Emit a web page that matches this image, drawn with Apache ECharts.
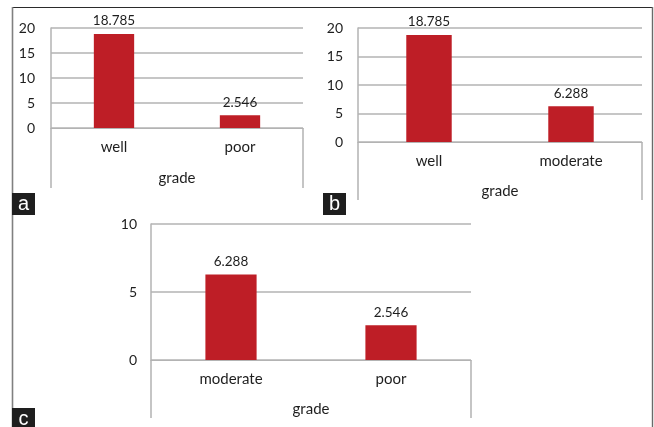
<!DOCTYPE html>
<html>
<head>
<meta charset="utf-8">
<style>
  html, body { margin: 0; padding: 0; background: #fff; }
  #chart { width: 654px; height: 427px; }
</style>
<script src="https://cdn.jsdelivr.net/npm/echarts@6/dist/echarts.min.js"></script>
</head>
<body>
<div id="chart"></div>
<script>
// Panel a: well vs poor
const catsA = ['well', 'poor'];
const valsA = [18.785, 2.546];
// Panel b: well vs moderate
const catsB = ['well', 'moderate'];
const valsB = [18.785, 6.288];
// Panel c: moderate vs poor
const catsC = ['moderate', 'poor'];
const valsC = [6.288, 2.546];

// Value axis ranges
const yMaxAB = 20;
const yMaxC = 10;
const yStep = 5;

const axisTitle = 'grade';
const panelTags = ['a', 'b', 'c'];

const FONT = 'Lato, "Open Sans", sans-serif';
const GRID_GRAY = '#b3b3b3';
const TEXT = '#1e1e1e';
const BAR_RED = '#BE1E26';

const chart = echarts.init(document.getElementById('chart'), null, { renderer: 'canvas' });

function xAxisFor(gridIndex, cats, tickLen, nameGap) {
  return {
    type: 'category',
    gridIndex: gridIndex,
    data: cats,
    boundaryGap: true,
    name: axisTitle,
    nameLocation: 'middle',
    nameGap: nameGap,
    nameTextStyle: { fontFamily: FONT, fontSize: 15, color: TEXT },
    axisLine: { show: true, lineStyle: { color: GRID_GRAY, width: 1 } },
    // only the two outer boundary ticks, extended down past the labels
    axisTick: {
      show: true,
      interval: function (idx) { return idx === 0; },
      length: tickLen,
      lineStyle: { color: GRID_GRAY, width: 1.5 }
    },
    axisLabel: { margin: 12, fontFamily: FONT, fontSize: 15, color: TEXT },
    splitLine: { show: false }
  };
}

function yAxisFor(gridIndex, max, margin) {
  return {
    type: 'value',
    gridIndex: gridIndex,
    min: 0,
    max: max,
    interval: yStep,
    axisLine: { show: true, lineStyle: { color: GRID_GRAY, width: 1.5 } },
    axisTick: { show: false },
    axisLabel: { margin: margin, fontFamily: FONT, fontSize: 14, color: TEXT },
    splitLine: { show: true, lineStyle: { color: GRID_GRAY, width: 1.5 } }
  };
}

function barSeries(idx, vals) {
  return {
    type: 'bar',
    xAxisIndex: idx,
    yAxisIndex: idx,
    data: vals,
    barWidth: '32%',
    itemStyle: { color: BAR_RED },
    label: {
      show: true,
      position: 'top',
      distance: 6,
      fontFamily: FONT,
      fontSize: 13.5,
      color: TEXT,
      formatter: function (p) { return p.value.toFixed(3); }
    },
    silent: true
  };
}

function tag(letter, x, y) {
  return {
    type: 'group',
    left: x,
    top: y,
    children: [
      { type: 'rect', shape: { x: 0, y: 0, width: 23, height: 22 }, style: { fill: '#1e1e1e' } },
      {
        type: 'text', x: 11.5, y: 11,
        style: {
          text: letter, fill: '#fff', font: '20px "Liberation Sans", Arial, sans-serif',
          textAlign: 'center', textVerticalAlign: 'middle'
        }
      }
    ]
  };
}

chart.setOption({
  animation: false,
  grid: [
    { left: 51, top: 28, width: 252, height: 100 },
    { left: 358, top: 28, width: 284, height: 114 },
    { left: 151, top: 224, width: 320, height: 136 }
  ],
  xAxis: [
    xAxisFor(0, catsA, 60, 43),
    xAxisFor(1, catsB, 58, 42),
    xAxisFor(2, catsC, 58, 42)
  ],
  yAxis: [
    yAxisFor(0, yMaxAB, 16),
    yAxisFor(1, yMaxAB, 15),
    yAxisFor(2, yMaxC, 14)
  ],
  series: [
    barSeries(0, valsA),
    barSeries(1, valsB),
    barSeries(2, valsC)
  ],
  graphic: [
    // outer figure frame (open at the bottom)
    { type: 'line', shape: { x1: 12, y1: 7.5, x2: 653, y2: 7.5 }, style: { stroke: '#2b2b2b', lineWidth: 1.2 } },
    { type: 'line', shape: { x1: 12.5, y1: 7, x2: 12.5, y2: 427 }, style: { stroke: '#808080', lineWidth: 1.6 } },
    { type: 'line', shape: { x1: 652.5, y1: 7, x2: 652.5, y2: 427 }, style: { stroke: '#6a6a6a', lineWidth: 1.4 } },
    tag(panelTags[0], 12, 193),
    tag(panelTags[1], 323, 193),
    tag(panelTags[2], 12, 408)
  ]
});
</script>
</body>
</html>
